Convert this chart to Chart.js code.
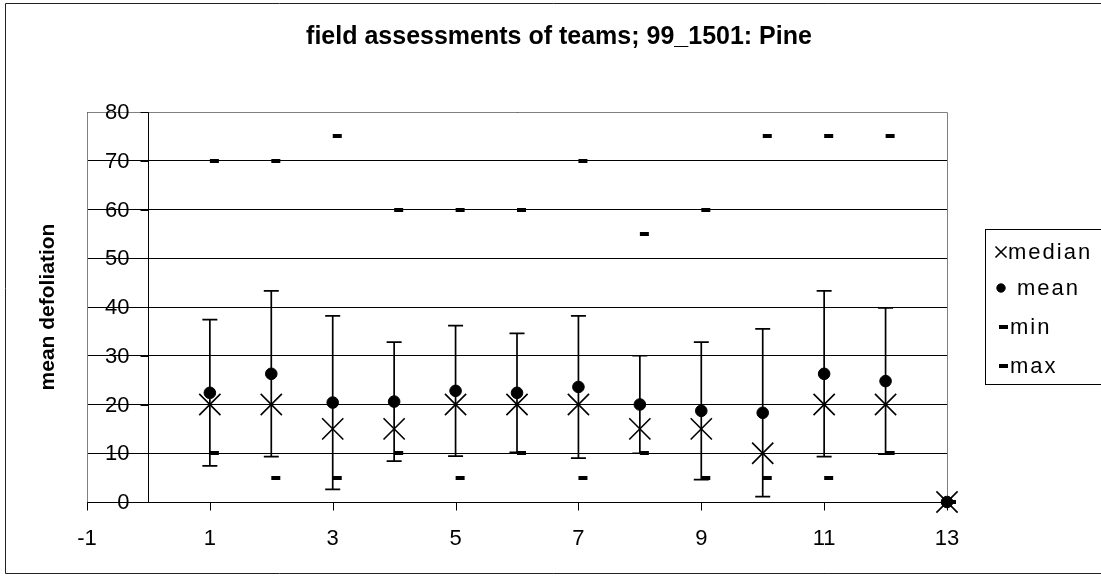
<!DOCTYPE html>
<html>
<head>
<meta charset="utf-8">
<title>field assessments of teams; 99_1501: Pine</title>
<script src="https://cdn.jsdelivr.net/npm/chart.js@4/dist/chart.umd.min.js"></script>
<style>
  html, body { margin: 0; padding: 0; background: #fff; }
  #wrap { width: 1101px; height: 578px; }
</style>
</head>
<body>
<div id="wrap"><canvas id="teamChart" width="1101" height="578"></canvas></div>
<script>
// team numbers and per-team defoliation stats
const teams = [1, 2, 3, 4, 5, 6, 7, 8, 9, 10, 11, 12, 13];
const medianVals = [20, 20, 15, 15, 20, 20, 20, 15, 15, 10, 20, 20, 0];
const meanVals = [22.4, 26.3, 20.4, 20.6, 22.8, 22.4, 23.6, 20.0, 18.7, 18.3, 26.3, 24.8, 0];
const sdVals = [15.0, 17.0, 17.8, 12.2, 13.4, 12.2, 14.6, 10.0, 14.1, 17.2, 17.0, 15.0, 0];
const minVals = [10, 5, 5, 10, 5, 10, 5, 10, 5, 5, 5, 10, 0];
const maxVals = [70, 70, 75, 60, 60, 60, 70, 55, 60, 75, 75, 75, 0];

const xTicks = [-1, 1, 3, 5, 7, 9, 11, 13];
const yTicks = [0, 10, 20, 30, 40, 50, 60, 70, 80];

const chartTitle = 'field assessments of teams; 99_1501: Pine';
const yTitle = 'mean defoliation';
const FONT = "'Liberation Sans', Arial, sans-serif";

// little dash marker that sits just right of the point, like the old Excel one
function makeDash() {
    const c = document.createElement('canvas');
    c.width = 20;
    c.height = 4;
    const g = c.getContext('2d');
    g.fillStyle = '#000';
    g.fillRect(10, 0, 9, 4);
    return c;
}
const dash = makeDash();

function pts(vals) {
    return teams.map((t, i) => ({ x: t, y: vals[i] }));
}

// mean +/- sd whiskers
const errorBars = {
    id: 'errorBars',
    beforeDatasetsDraw(chart) {
        const { ctx, scales: { x, y } } = chart;
        ctx.save();
        ctx.strokeStyle = '#000';
        ctx.lineWidth = 1.7;
        teams.forEach((t, i) => {
            if (!sdVals[i]) return;
            const px = x.getPixelForValue(t);
            const top = y.getPixelForValue(meanVals[i] + sdVals[i]);
            const bot = y.getPixelForValue(meanVals[i] - sdVals[i]);
            ctx.beginPath();
            ctx.moveTo(px, top); ctx.lineTo(px, bot);
            ctx.moveTo(px - 7.5, top); ctx.lineTo(px + 7.5, top);
            ctx.moveTo(px - 7.5, bot); ctx.lineTo(px + 7.5, bot);
            ctx.stroke();
        });
        ctx.restore();
    }
};

// axes cross at (0, 0): grey frame, black axis lines, tick marks and y labels
const axesAtZero = {
    id: 'axesAtZero',
    beforeDatasetsDraw(chart) {
        const { ctx, chartArea: a, scales: { x, y } } = chart;
        const L = Math.round(a.left) + 0.5;
        const R = Math.round(a.right) + 0.5;
        const T = Math.round(a.top) + 0.5;
        const x0 = Math.round(x.getPixelForValue(0)) + 0.5;
        const y0 = Math.round(y.getPixelForValue(0)) + 0.5;
        ctx.save();
        ctx.lineWidth = 1;
        ctx.strokeStyle = '#808080';
        ctx.beginPath();
        ctx.moveTo(L, y0); ctx.lineTo(L, T); ctx.lineTo(R, T); ctx.lineTo(R, y0);
        ctx.stroke();

        ctx.strokeStyle = '#000';
        ctx.beginPath();
        ctx.moveTo(x0, T); ctx.lineTo(x0, y0);
        ctx.moveTo(L, y0); ctx.lineTo(R, y0);
        x.ticks.forEach(t => {
            const px = Math.round(x.getPixelForValue(t.value)) + 0.5;
            ctx.moveTo(px, y0); ctx.lineTo(px, y0 + 8);
        });
        y.ticks.forEach(t => {
            const py = Math.round(y.getPixelForValue(t.value)) + 0.5;
            ctx.moveTo(x0 - 8, py); ctx.lineTo(x0, py);
        });
        ctx.stroke();

        ctx.fillStyle = '#000';
        ctx.font = '22px ' + FONT;
        ctx.textAlign = 'right';
        ctx.textBaseline = 'middle';
        y.ticks.forEach(t => {
            ctx.fillText(String(t.value), x0 - 19, y.getPixelForValue(t.value) + 1);
        });
        ctx.restore();
    }
};

// titles, legend box and outer border
const decorations = {
    id: 'decorations',
    afterDraw(chart) {
        const ctx = chart.ctx;
        ctx.save();
        ctx.fillStyle = '#000';

        ctx.font = 'bold 25px ' + FONT;
        ctx.textAlign = 'center';
        ctx.textBaseline = 'middle';
        ctx.fillText(chartTitle, 559, 37);

        ctx.save();
        ctx.translate(48, 307);
        ctx.rotate(-Math.PI / 2);
        ctx.font = 'bold 21px ' + FONT;
        ctx.fillText(yTitle, 0, 0);
        ctx.restore();

        // legend
        ctx.strokeStyle = '#000';
        ctx.lineWidth = 1;
        ctx.strokeRect(985.5, 229.5, 140, 155);
        const rowY = [252, 288, 327, 366];
        const sizes = [7.8, 4.2, 0, 0];
        const textX = [1008, 1017, 1010, 1010];
        ctx.font = '22px ' + FONT;
        ctx.textAlign = 'left';
        ctx.letterSpacing = '2px';
        chart.data.datasets.forEach((ds, i) => {
            ctx.save();
            ctx.strokeStyle = '#000';
            ctx.fillStyle = '#000';
            ctx.lineWidth = ds.borderWidth;
            const mx = ds.pointStyle === dash ? 999 : 1001;
            Chart.helpers.drawPoint(ctx, { pointStyle: ds.pointStyle, radius: sizes[i], rotation: 0, borderWidth: ds.borderWidth }, mx, rowY[i]);
            ctx.restore();
            ctx.fillText(ds.label, textX[i], rowY[i] + 1);
        });
        ctx.letterSpacing = '0px';

        // outer border runs off the right edge
        ctx.strokeStyle = '#222';
        ctx.beginPath();
        ctx.moveTo(1101, 3.5); ctx.lineTo(5.5, 3.5); ctx.lineTo(5.5, 573.5); ctx.lineTo(1101, 573.5);
        ctx.stroke();
        ctx.restore();
    }
};

const ctx = document.getElementById('teamChart').getContext('2d');
new Chart(ctx, {
    type: 'scatter',
    data: {
        datasets: [
            {
                label: 'median',
                data: pts(medianVals),
                pointStyle: 'crossRot',
                pointRadius: 15,
                pointHoverRadius: 15,
                borderColor: '#000',
                backgroundColor: '#000',
                borderWidth: 1.6,
                clip: false
            },
            {
                label: 'mean',
                data: pts(meanVals),
                pointStyle: 'circle',
                pointRadius: 5.8,
                pointHoverRadius: 5.8,
                borderColor: '#000',
                backgroundColor: '#000',
                borderWidth: 1,
                clip: false
            },
            {
                label: 'min',
                data: pts(minVals),
                pointStyle: dash,
                borderColor: '#000',
                backgroundColor: '#000',
                borderWidth: 1,
                clip: false
            },
            {
                label: 'max',
                data: pts(maxVals),
                pointStyle: dash,
                borderColor: '#000',
                backgroundColor: '#000',
                borderWidth: 1,
                clip: false
            }
        ]
    },
    options: {
        responsive: false,
        animation: false,
        devicePixelRatio: 1,
        layout: { padding: { top: 112, left: 87, right: 154, bottom: 76 } },
        plugins: {
            legend: { display: false },
            title: { display: false },
            tooltip: { enabled: false }
        },
        scales: {
            x: {
                type: 'linear',
                position: { y: 0 },
                min: -1,
                max: 13,
                afterBuildTicks: (scale) => { scale.ticks = xTicks.map(v => ({ value: v })); },
                ticks: { color: '#000', font: { family: FONT, size: 22 }, padding: 24, autoSkip: false, maxRotation: 0 },
                grid: { drawOnChartArea: false, drawTicks: false },
                border: { display: false }
            },
            y: {
                type: 'linear',
                position: { x: 0 },
                min: 0,
                max: 80,
                afterBuildTicks: (scale) => { scale.ticks = yTicks.map(v => ({ value: v })); },
                ticks: { display: false },
                grid: { color: '#000', drawTicks: false },
                border: { display: false }
            }
        }
    },
    plugins: [axesAtZero, errorBars, decorations]
});
</script>
</body>
</html>
